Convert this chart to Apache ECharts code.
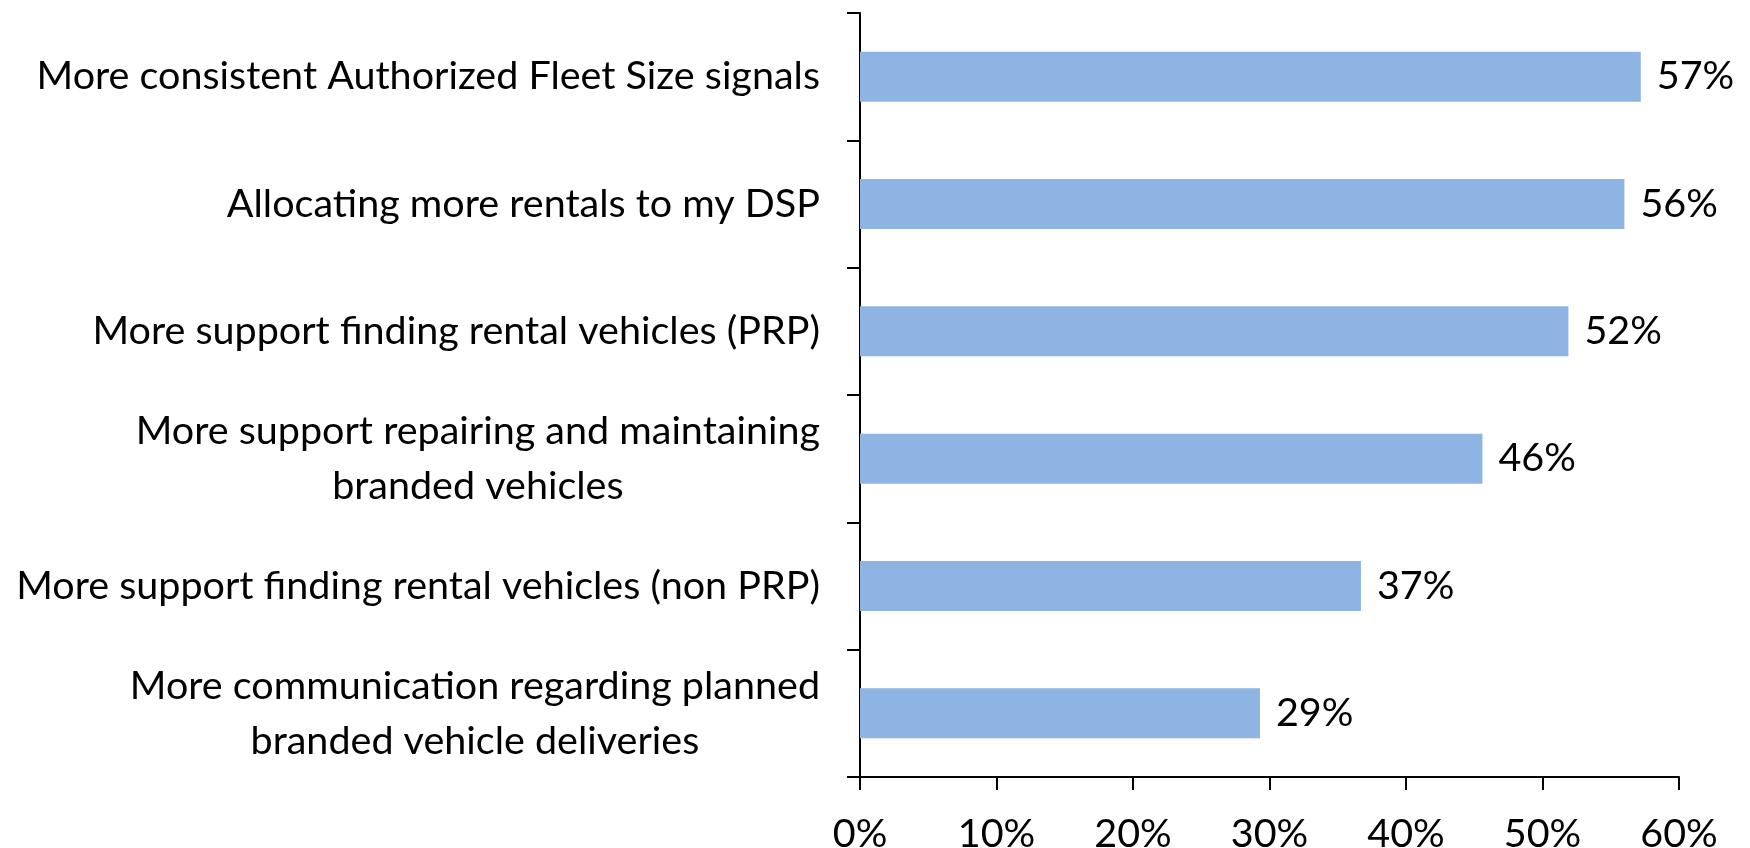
<!DOCTYPE html>
<html>
<head>
<meta charset="utf-8">
<script src="https://cdn.jsdelivr.net/npm/echarts@6/dist/echarts.min.js"></script>
<style>
html,body{margin:0;padding:0;background:#fff;}
#chart{width:1750px;height:848px;}
</style>
</head>
<body>
<div id="chart"></div>
<script>
// Categories listed bottom to top
const categories = [
  "More communication regarding planned\nbranded vehicle deliveries",
  "More support finding rental vehicles (non PRP)",
  "More support repairing and maintaining\nbranded vehicles",
  "More support finding rental vehicles (PRP)",
  "Allocating more rentals to my DSP",
  "More consistent Authorized Fleet Size signals"
];
const values = [29.3, 36.7, 45.6, 51.9, 56.0, 57.2];
const xTicks = [0, 10, 20, 30, 40, 50, 60];

const FONT = 'Lato';
const FS = 39.5;

const chart = echarts.init(document.getElementById('chart'), null, {renderer: 'canvas'});
chart.setOption({
  animation: false,
  backgroundColor: '#ffffff',
  grid: {left: 860, right: 71, top: 13, bottom: 71, containLabel: false, outerBoundsMode: 'none'},
  xAxis: {
    type: 'value',
    min: xTicks[0], max: xTicks[xTicks.length - 1], interval: 10,
    axisLine: {show: true, lineStyle: {color: '#000', width: 2}},
    axisTick: {show: true, length: 13, lineStyle: {color: '#000', width: 2}},
    splitLine: {show: false},
    axisLabel: {
      formatter: v => v + '%',
      color: '#000', fontFamily: FONT, fontSize: FS, margin: 37
    }
  },
  yAxis: {
    type: 'category',
    data: categories,
    axisLine: {show: true, lineStyle: {color: '#000', width: 2}},
    axisTick: {show: true, length: 13, lineStyle: {color: '#000', width: 2}},
    axisLabel: {
      color: '#000', fontFamily: FONT, fontSize: FS, margin: 40,
      align: 'right', lineHeight: 55,
      formatter: v => '{c|' + v + '}',
      rich: {c: {align: 'center', fontFamily: FONT, fontSize: FS, lineHeight: 55, color: '#000'}}
    }
  },
  series: [{
    type: 'bar',
    data: values,
    barWidth: 50,
    itemStyle: {color: '#8EB4E3'},
    label: {
      show: true, position: 'right', distance: 16,
      formatter: p => Math.round(p.value) + '%',
      color: '#000', fontFamily: FONT, fontSize: FS
    }
  }]
});
</script>
</body>
</html>
